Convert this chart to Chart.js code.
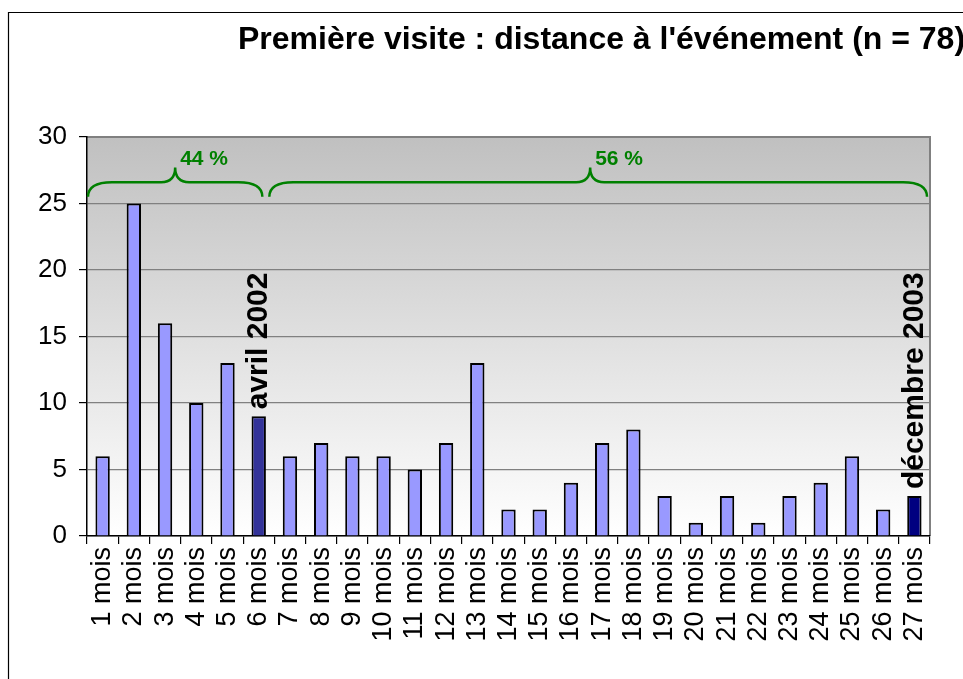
<!DOCTYPE html>
<html>
<head>
<meta charset="utf-8">
<script src="https://cdn.jsdelivr.net/npm/chart.js@4.4.1/dist/chart.umd.min.js"></script>
<style>
  body { margin: 0; background: #fff; }
  canvas { display: block; }
</style>
</head>
<body>
<canvas id="myChart" width="963" height="679"></canvas>
<script>
const title = "Première visite : distance à l'événement (n = 78)"
const categories = ['1 mois', '2 mois', '3 mois', '4 mois', '5 mois', '6 mois', '7 mois', '8 mois', '9 mois',
  '10 mois', '11 mois', '12 mois', '13 mois', '14 mois', '15 mois', '16 mois', '17 mois', '18 mois',
  '19 mois', '20 mois', '21 mois', '22 mois', '23 mois', '24 mois', '25 mois', '26 mois', '27 mois']
const counts = [6, 25, 16, 10, 13, 9, 6, 7, 6, 6, 5, 7, 13, 2, 2, 4, 7, 8, 3, 1, 3, 1, 3, 4, 6, 2, 3]
const yTicks = [0, 5, 10, 15, 20, 25, 30]

// événements marqués sur les barres
const eventCats = ['6 mois', '27 mois']
const eventLabels = ['avril 2002', 'décembre 2003']

// accolades
const groupLabels = ['44 %', '56 %']
const groupFirst = ['1 mois', '7 mois']
const groupLast = ['6 mois', '27 mois']

const ctx = document.getElementById('myChart').getContext('2d')
const green = '#008000'
const font = 'Arial, "Liberation Sans"'

const barColors = categories.map(c => {
  if (c === eventCats[0]) return '#333399'
  if (c === eventCats[1]) return '#000080'
  return '#9999FF'
})

const frame = {
  id: 'frame',
  beforeDraw(chart) {
    const c = chart.ctx
    const a = chart.chartArea
    c.save()
    c.fillStyle = '#fff'
    c.fillRect(0, 0, chart.width, chart.height)
    c.strokeStyle = '#000'
    c.lineWidth = 1.2
    c.beginPath()
    c.moveTo(8.5, chart.height)
    c.lineTo(8.5, 12.5)
    c.lineTo(chart.width, 12.5)
    c.stroke()
    // fond dégradé
    const g = c.createLinearGradient(0, a.top, 0, a.bottom)
    g.addColorStop(0, '#c0c0c0')
    g.addColorStop(1, '#ffffff')
    c.fillStyle = g
    c.fillRect(a.left, a.top, a.right - a.left, a.bottom - a.top)
    c.strokeStyle = '#808080'
    c.lineWidth = 2
    c.beginPath()
    c.moveTo(a.left, a.top)
    c.lineTo(a.right, a.top)
    c.lineTo(a.right, a.bottom)
    c.stroke()
    // titre
    c.fillStyle = '#000'
    c.font = 'bold 32px ' + font
    c.textBaseline = 'alphabetic'
    c.textAlign = 'left'
    c.fillText(title, 238, 49)
    c.restore()
  }
}

const marks = {
  id: 'marks',
  afterDatasetsDraw(chart) {
    const c = chart.ctx
    const x = chart.scales.x
    const y = chart.scales.y
    const catW = x.getPixelForValue(1) - x.getPixelForValue(0)
    c.save()
    // textes verticaux
    c.fillStyle = '#000'
    c.font = 'bold 30px ' + font
    c.textAlign = 'left'
    c.textBaseline = 'middle'
    eventCats.forEach((cat, i) => {
      const idx = categories.indexOf(cat)
      const px = x.getPixelForValue(idx)
      const py = y.getPixelForValue(counts[idx]) - 7
      c.save()
      c.translate(px, py)
      c.rotate(-Math.PI / 2)
      c.fillText(eventLabels[i], 0, 0)
      c.restore()
    })
    // accolades
    c.strokeStyle = green
    c.fillStyle = green
    c.lineWidth = 2.5
    c.font = 'bold 21px ' + font
    const yEnd = y.getPixelForValue(25.5)
    const yLine = y.getPixelForValue(26.6)
    const yPeak = y.getPixelForValue(27.7)
    groupLabels.forEach((lab, i) => {
      const x1 = x.getPixelForValue(categories.indexOf(groupFirst[i])) - catW / 2 + (i === 0 ? 1 : -5)
      const x2 = x.getPixelForValue(categories.indexOf(groupLast[i])) + catW / 2 - (i === 0 ? 12 : 3)
      const xm = (x1 + x2) / 2 - (i === 0 ? 0 : 8)
      const r = 24
      const r2 = 14
      c.beginPath()
      c.moveTo(x1, yEnd)
      c.quadraticCurveTo(x1, yLine, x1 + r, yLine)
      c.lineTo(xm - r2, yLine)
      c.quadraticCurveTo(xm, yLine, xm, yPeak)
      c.quadraticCurveTo(xm, yLine, xm + r2, yLine)
      c.lineTo(x2 - r, yLine)
      c.quadraticCurveTo(x2, yLine, x2, yEnd)
      c.stroke()
      c.textAlign = 'left'
      c.textBaseline = 'middle'
      c.fillText(lab, xm + 5, y.getPixelForValue(28.3))
    })
    c.restore()
  }
}

new Chart(ctx, {
  type: 'bar',
  data: {
    labels: categories,
    datasets: [{
      data: counts,
      backgroundColor: barColors,
      borderColor: '#000',
      borderWidth: 2,
      barPercentage: 0.46,
      categoryPercentage: 1
    }]
  },
  options: {
    responsive: false,
    animation: false,
    layout: { padding: { top: 137, right: 33, left: 0, bottom: 0 } },
    plugins: {
      legend: { display: false },
      title: { display: false },
      tooltip: { enabled: false }
    },
    scales: {
      x: {
        offset: true,
        afterFit: (s) => { s.height = 143 },
        grid: { offset: true, drawOnChartArea: false, drawTicks: true, tickLength: 8, color: '#000', lineWidth: 1.2 },
        border: { color: '#000', width: 1.5 },
        ticks: {
          autoSkip: false, minRotation: 90, maxRotation: 90, color: '#000', padding: 3,
          font: { family: font, size: 27 }
        }
      },
      y: {
        min: 0,
        max: 30,
        afterFit: (s) => { s.width = 87 },
        afterBuildTicks: (s) => { s.ticks = yTicks.map(v => ({ value: v })) },
        grid: { color: '#808080', lineWidth: 1.2, tickColor: '#000', tickLength: 8 },
        border: { color: '#000', width: 1.5 },
        ticks: {
          color: '#000', padding: 12,
          font: { family: font, size: 26 }
        }
      }
    }
  },
  plugins: [frame, marks]
})
</script>
</body>
</html>
